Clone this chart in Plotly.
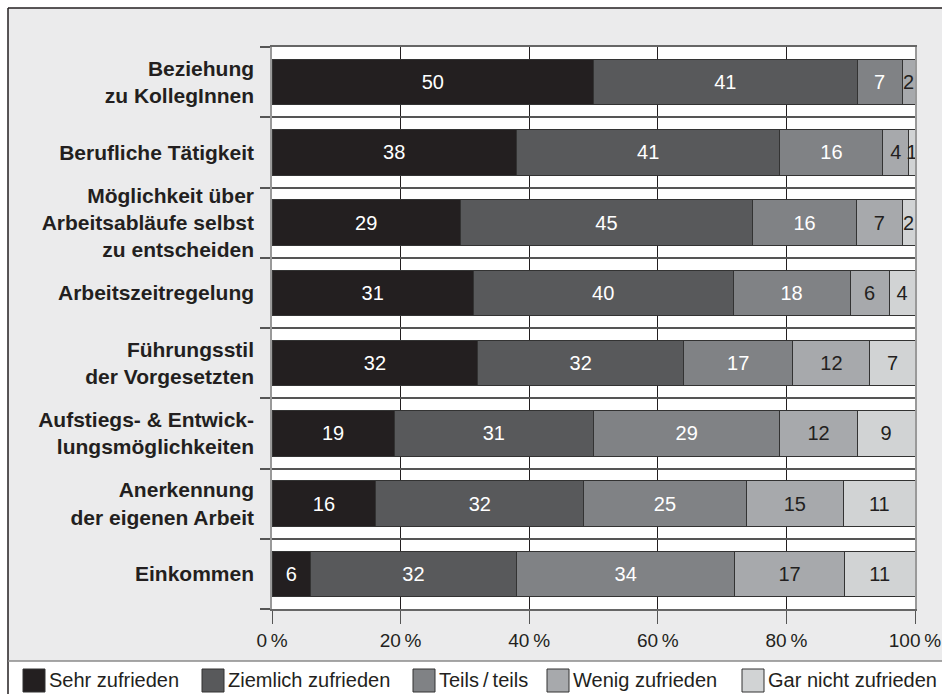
import plotly.graph_objects as go

# Zufriedenheit mit Aspekten der Arbeit (Anteile in %)
categories = [
    "Beziehung<br>zu KollegInnen",
    "Berufliche Tätigkeit",
    "Möglichkeit über<br>Arbeitsabläufe selbst<br>zu entscheiden",
    "Arbeitszeitregelung",
    "Führungsstil<br>der Vorgesetzten",
    "Aufstiegs- & Entwick-<br>lungsmöglichkeiten",
    "Anerkennung<br>der eigenen Arbeit",
    "Einkommen",
]
series_names = [
    "Sehr zufrieden",
    "Ziemlich zufrieden",
    "Teils\u2009/\u2009teils",
    "Wenig zufrieden",
    "Gar nicht zufrieden",
]
sehr_zufrieden = [50, 38, 29, 31, 32, 19, 16, 6]
ziemlich_zufrieden = [41, 41, 45, 40, 32, 31, 32, 32]
teils_teils = [7, 16, 16, 18, 17, 29, 25, 34]
wenig_zufrieden = [2, 4, 7, 6, 12, 12, 15, 17]
gar_nicht_zufrieden = [0, 1, 2, 4, 7, 9, 11, 11]
x_ticks = [0, 20, 40, 60, 80, 100]

series_values = [sehr_zufrieden, ziemlich_zufrieden, teils_teils,
                 wenig_zufrieden, gar_nicht_zufrieden]
fill_colors = ["#231f20", "#58595b", "#808285", "#a7a9ac", "#d1d3d4"]
text_colors = ["#ffffff", "#ffffff", "#ffffff", "#231f20", "#231f20"]

FONT = "Liberation Sans, Arial, sans-serif"
W, H = 942, 694
L, R, T, B = 272, 27, 47, 85
PW, PH = W - L - R, H - T - B


def px_x(px):
    return (px - L) / PW


def px_y(py):
    return (H - B - py) / PH


fig = go.Figure()
for name, vals, fc, tc in zip(series_names, series_values, fill_colors, text_colors):
    fig.add_trace(go.Bar(
        name=name,
        y=categories,
        x=vals,
        orientation="h",
        marker=dict(color=fc, line=dict(color="#333333", width=1)),
        text=[str(v) if v else "" for v in vals],
        textposition="inside",
        insidetextanchor="middle",
        textangle=0,
        constraintext="none",
        textfont=dict(family=FONT, size=20, color=tc),
        hoverinfo="skip",
        showlegend=False,
    ))

shapes = []
# white surround outside the framed grey panel
shapes.append(dict(type="rect", xref="paper", yref="paper", layer="below",
                   x0=px_x(0), x1=px_x(W), y0=px_y(0), y1=px_y(8),
                   fillcolor="white", line=dict(width=0)))
shapes.append(dict(type="rect", xref="paper", yref="paper", layer="below",
                   x0=px_x(0), x1=px_x(8), y0=px_y(0), y1=px_y(H),
                   fillcolor="white", line=dict(width=0)))
shapes.append(dict(type="rect", xref="paper", yref="paper", layer="below",
                   x0=px_x(8), x1=px_x(W), y0=px_y(661), y1=px_y(H),
                   fillcolor="white", line=dict(width=0)))
# frame lines
shapes.append(dict(type="line", xref="paper", yref="paper",
                   x0=px_x(8), x1=px_x(W), y0=px_y(8), y1=px_y(8),
                   line=dict(color="#231f20", width=1.5)))
shapes.append(dict(type="line", xref="paper", yref="paper",
                   x0=px_x(8), x1=px_x(8), y0=px_y(8), y1=px_y(H),
                   line=dict(color="#231f20", width=1.5)))
shapes.append(dict(type="line", xref="paper", yref="paper",
                   x0=px_x(8), x1=px_x(W), y0=px_y(661), y1=px_y(661),
                   line=dict(color="#8a8a8a", width=1.5)))

# legend row drawn as swatches + labels
annotations = []
swatch_left = [23, 202, 413, 547, 742]
for name, fc, sx in zip(series_names, fill_colors, swatch_left):
    shapes.append(dict(type="rect", xref="paper", yref="paper",
                       x0=px_x(sx), x1=px_x(sx + 22), y0=px_y(692), y1=px_y(669),
                       fillcolor=fc, line=dict(color="#333333", width=1)))
    annotations.append(dict(xref="paper", yref="paper", x=px_x(sx + 24), y=px_y(680.5),
                            text=name, showarrow=False,
                            xanchor="left", yanchor="middle",
                            font=dict(family=FONT, size=20, color="#231f20")))

fig.update_layout(
    width=W, height=H,
    margin=dict(l=L, r=R, t=T, b=B, pad=0),
    barmode="stack",
    barnorm="percent",
    bargap=0.35,
    paper_bgcolor="#ebebec",
    plot_bgcolor="white",
    shapes=shapes,
    annotations=annotations,
    xaxis=dict(
        range=[0, 100],
        tickvals=x_ticks,
        ticktext=[f"{v}\u2009%" for v in x_ticks],
        ticks="outside", ticklen=13, tickwidth=1, tickcolor="#555555",
        showgrid=True, gridcolor="#231f20", gridwidth=1,
        zeroline=False,
        showline=True, linecolor="#666666", linewidth=1.5, mirror=True,
        tickfont=dict(family=FONT, size=19, color="#231f20"),
        automargin=False,
        fixedrange=True,
    ),
    yaxis=dict(
        type="category",
        categoryorder="array",
        categoryarray=categories[::-1],
        tickson="boundaries",
        ticks="outside", ticklen=10, tickwidth=1.5, tickcolor="#555555",
        showgrid=True, gridcolor="#555555", gridwidth=1.5,
        showline=True, linecolor="#999999", linewidth=1.5, mirror=True,
        ticklabelstandoff=12,
        tickfont=dict(family=FONT, size=21, color="#231f20", weight="bold"),
        automargin=False,
        fixedrange=True,
    ),
)

fig.write_html("out.html")
